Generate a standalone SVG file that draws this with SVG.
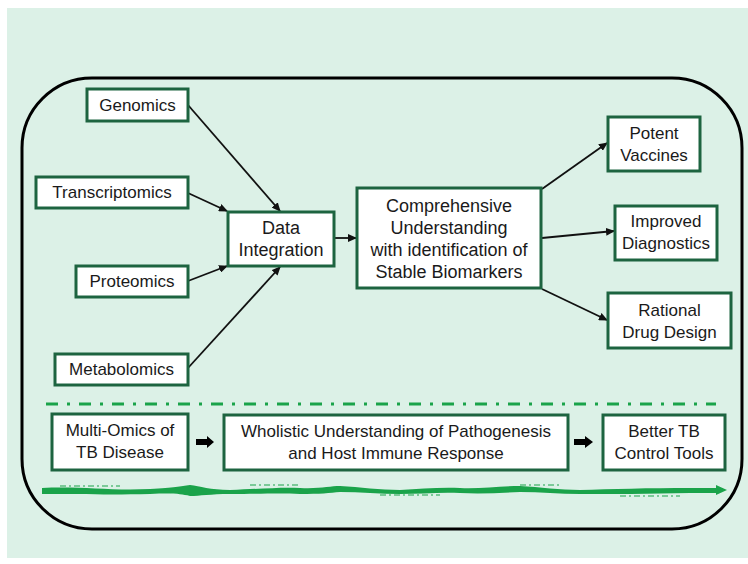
<svg xmlns="http://www.w3.org/2000/svg" width="748" height="564" viewBox="0 0 748 564">
<defs>
<style>
.box{fill:#ffffff;stroke:#1d6440;stroke-width:3}
.t{font-family:"Liberation Sans",Arial,sans-serif;font-size:17px;fill:#1a1a1a;text-anchor:middle}
.t18{font-size:18px}
.conn{stroke:#111;stroke-width:1.8;fill:none;marker-end:url(#ah)}
</style>
<marker id="ah" markerUnits="userSpaceOnUse" markerWidth="9" markerHeight="8" refX="8" refY="4" orient="auto">
<path d="M0,0 L9,4 L0,8 Z" fill="#111"/>
</marker>
</defs>
<rect x="0" y="0" width="748" height="564" fill="#ffffff"/>
<rect x="7" y="8" width="741" height="550" fill="#dcf1e7"/>
<rect id="frame" x="22" y="78" width="720" height="451" rx="70" ry="70" fill="none" stroke="#000" stroke-width="3"/>

<g id="connectors">
<line class="conn" x1="188" y1="105" x2="280" y2="211"/>
<line class="conn" x1="188" y1="193" x2="227" y2="211"/>
<line class="conn" x1="188" y1="281" x2="227" y2="266"/>
<line class="conn" x1="188" y1="368" x2="280" y2="267"/>
<line class="conn" x1="334" y1="238" x2="356" y2="238"/>
<line class="conn" x1="542" y1="189" x2="607" y2="143"/>
<line class="conn" x1="542" y1="238" x2="614" y2="231"/>
<line class="conn" x1="542" y1="289" x2="607" y2="320"/>
<path d="M196,439 L207,439 L207,436 L214,442 L207,448 L207,445 L196,445 Z" fill="#000"/>
<path d="M574,439 L585,439 L585,436 L593,442 L585,448 L585,445 L574,445 Z" fill="#000"/>
</g>

<g id="genomics"><rect class="box" x="87" y="89" width="101" height="32"/><text class="t" x="137.5" y="111">Genomics</text></g>
<g id="transcriptomics"><rect class="box" x="36" y="177" width="152" height="31"/><text class="t" x="112" y="198">Transcriptomics</text></g>
<g id="proteomics"><rect class="box" x="76" y="266" width="112" height="31"/><text class="t" x="132" y="287">Proteomics</text></g>
<g id="metabolomics"><rect class="box" x="55" y="354" width="133" height="31"/><text class="t" x="121.5" y="375">Metabolomics</text></g>
<g id="data-integration"><rect class="box" x="228" y="212" width="106" height="54"/><text class="t t18" x="281" y="234">Data</text><text class="t t18" x="281" y="256">Integration</text></g>
<g id="comprehensive"><rect class="box" x="357" y="188" width="184" height="100"/>
<text class="t t18" x="449" y="212">Comprehensive</text>
<text class="t t18" x="449" y="234">Understanding</text>
<text class="t t18" x="449" y="256">with identification of</text>
<text class="t t18" x="449" y="278">Stable Biomarkers</text></g>
<g id="vaccines"><rect class="box" x="608" y="117" width="92" height="54"/><text class="t" x="654" y="139">Potent</text><text class="t" x="654" y="161">Vaccines</text></g>
<g id="diagnostics"><rect class="box" x="615" y="206" width="102" height="54"/><text class="t" x="666" y="227">Improved</text><text class="t" x="666" y="249">Diagnostics</text></g>
<g id="drug-design"><rect class="box" x="608" y="293" width="123" height="55"/><text class="t" x="669.5" y="316">Rational</text><text class="t" x="669.5" y="338">Drug Design</text></g>

<line id="divider" x1="46" y1="404" x2="716" y2="404" stroke="#1aa34a" stroke-width="3" stroke-dasharray="12 9 3 9"/>

<g id="multi-omics"><rect class="box" x="52" y="414" width="136" height="56"/><text class="t" x="120" y="436">Multi-Omics of</text><text class="t" x="120" y="458">TB Disease</text></g>
<g id="wholistic"><rect class="box" x="224" y="415" width="344" height="55"/><text class="t" x="396" y="437">Wholistic Understanding of Pathogenesis</text><text class="t" x="396" y="459">and Host Immune Response</text></g>
<g id="better-tb"><rect class="box" x="603" y="415" width="122" height="55"/><text class="t" x="664" y="437">Better TB</text><text class="t" x="664" y="459">Control Tools</text></g>

<g id="green-arrow" fill="#1aa34a" stroke="none">
<path d="M42,488 C80,486 110,491 150,489 C175,488 180,486 190,485 C200,486 210,490 230,490 C260,489 280,487 300,488 C320,489 330,486 340,486 C360,487 380,490 400,490 C420,489 440,487 460,488 C480,489 500,486 520,486 C540,487 560,490 580,490 C610,489 650,488 690,488 L716,488 L716,485 L727,490 L716,495 L716,493 L690,493 C650,494 610,494 580,494 C560,494 540,492 520,492 C500,493 480,494 460,493 C440,492 420,494 400,494 C380,494 360,492 340,492 C330,493 320,494 300,494 C280,493 260,494 230,494 C210,494 200,496 190,496 C180,494 175,493 150,494 C110,495 80,494 42,494 Z"/>
<path d="M60,486 L120,486 M250,485 L300,485 M380,495 L440,495 M520,485 L560,485 M620,496 L680,496" stroke="#1aa34a" stroke-width="1.2" stroke-dasharray="6 3 2 3" fill="none"/>
</g>
</svg>
